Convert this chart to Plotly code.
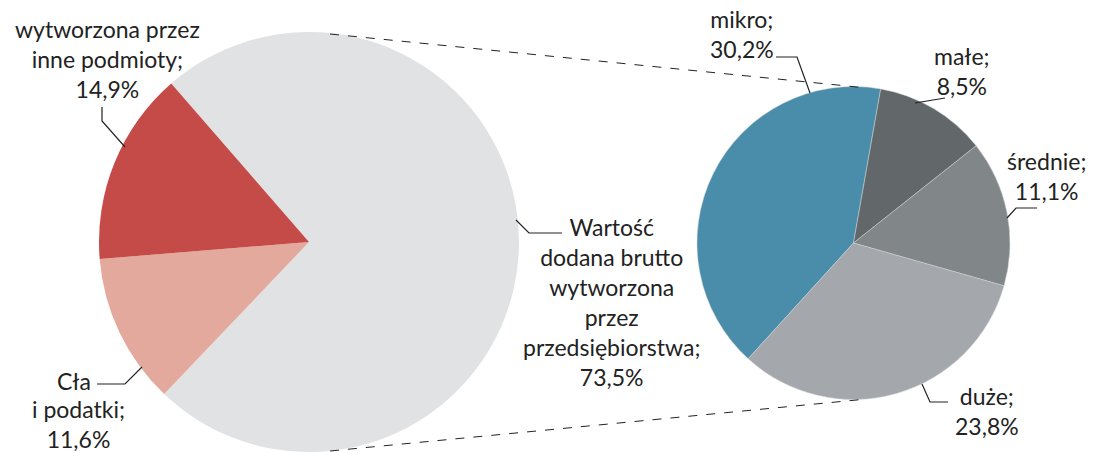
import plotly.graph_objects as go

W, H = 1104, 452

# left pie: structure of value
left_labels = ["Wartość dodana brutto wytworzona przez przedsiębiorstwa", "Cła i podatki",
               "wytworzona przez inne podmioty"]
left_values = [73.5, 11.6, 14.9]
left_colors = ["#e1e2e4", "#e3a99c", "#c44b47"]

# right pie: enterprises by size
right_labels = ["mikro", "małe", "średnie", "duże"]
right_values = [30.2, 8.5, 11.1, 23.8]
right_colors = ["#4a8daa", "#62676a", "#818689", "#a4a8ac"]

FONT = "Lato, 'Open Sans', sans-serif"
FS = 23
TXT = "#222222"


def px(x, y):
    # pixel -> paper coordinates
    return x / W, 1 - y / H


def dom(cx, cy, r):
    x0, y1 = px(cx - r, cy - r)
    x1, y0 = px(cx + r, cy + r)
    return dict(x=[max(x0, 0), min(x1, 1)], y=[max(y0, 0), min(y1, 1)])


fig = go.Figure()
fig.add_trace(go.Pie(labels=left_labels, values=left_values, sort=False,
                     direction="clockwise", rotation=-41,
                     marker=dict(colors=left_colors, line=dict(width=0)),
                     textinfo="none", hoverinfo="label+value",
                     domain=dom(309, 242, 210), showlegend=False))
fig.add_trace(go.Pie(labels=right_labels, values=right_values, sort=False,
                     direction="clockwise", rotation=-137.7,
                     marker=dict(colors=right_colors, line=dict(width=0.5, color="#d0d4d6")),
                     textinfo="none", hoverinfo="label+value",
                     domain=dom(853.5, 243, 156.5), showlegend=False))

# dashed connector lines between the pies
shapes = []
for (x0, y0), (x1, y1) in [((330, 34), (867, 88)), ((330, 451), (867, 399))]:
    a, b = px(x0, y0)
    c, d = px(x1, y1)
    shapes.append(dict(type="line", xref="paper", yref="paper", x0=a, y0=b, x1=c, y1=d,
                       line=dict(color="#222222", width=1, dash="dash")))

# leader lines
leaders = [
    [(102, 107), (102, 121), (125, 147)],
    [(97, 384), (125, 384), (142, 367)],
    [(516, 220), (529, 233), (562, 233)],
    [(776, 57), (797, 57), (810, 93)],
    [(945, 98), (915, 103)],
    [(1037, 208), (1016, 208), (1007, 218)],
    [(922, 384), (930, 402), (948, 402)],
]
for pts in leaders:
    path = ""
    for i, (x, y) in enumerate(pts):
        a, b = px(x, y)
        path += ("M" if i == 0 else "L") + f"{a:.5f},{b:.5f} "
    shapes.append(dict(type="path", xref="paper", yref="paper", path=path.strip(),
                       line=dict(color="#222222", width=1.2)))


def pct(v):
    return str(v).replace(".", ",") + "%"


# labels: (text, center x, center y)
labels = [
    ("wytworzona przez<br>inne podmioty;<br>" + pct(left_values[2]), 107, 59),
    ("i podatki;<br>" + pct(left_values[1]), 78, 424),
    ("Wartość<br>dodana brutto<br>wytworzona<br>przez<br>przedsiębiorstwa;<br>" + pct(left_values[0]),
     611, 302),
    ("mikro;<br>" + pct(right_values[0]), 742, 34),
    ("małe;<br>" + pct(right_values[1]), 962, 71),
    ("średnie;<br>" + pct(right_values[2]), 1046, 176),
    ("duże;<br>" + pct(right_values[3]), 987, 411),
]
annotations = []
for text, x, y in labels:
    a, b = px(x, y)
    annotations.append(dict(text=text, x=a, y=b, xref="paper", yref="paper",
                            xanchor="center", yanchor="middle", showarrow=False,
                            align="center", font=dict(size=FS, color=TXT, family=FONT)))
a, b = px(93, 381)
annotations.append(dict(text="Cła", x=a, y=b, xref="paper", yref="paper",
                        xanchor="right", yanchor="middle", showarrow=False,
                        font=dict(size=FS, color=TXT, family=FONT)))

fig.update_layout(width=W, height=H, margin=dict(l=0, r=0, t=0, b=0),
                  paper_bgcolor="white", plot_bgcolor="white",
                  shapes=shapes, annotations=annotations)

# page body has a default 8px margin; remove it so the figure fills the window
fig.write_html("out.html", config={"displayModeBar": False},
               post_script="document.body.style.margin='0';document.body.style.overflow='hidden';")
